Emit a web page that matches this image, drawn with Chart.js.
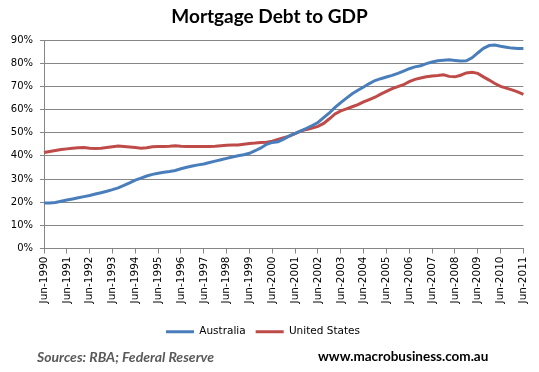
<!DOCTYPE html>
<html>
<head>
<meta charset="utf-8">
<script src="https://cdn.jsdelivr.net/npm/chart.js@4.4.0/dist/chart.umd.min.js"></script>
<style>
body { margin: 0; background: #fff; }
#wrap { position: relative; width: 539px; height: 372px; overflow: hidden; }
#title { position: absolute; top: 4px; left: 0; width: 539px; text-align: center; font: bold 19px Lato, sans-serif; color: #000; }
#myChart { position: absolute; left: 0; top: 0; }
.foot { position: absolute; top: 348px; font-family: Lato, sans-serif; font-weight: bold; white-space: nowrap; }
#src { left: 37px; font-size: 14px; font-style: italic; color: #595959; }
#site { left: 318px; font-size: 13.5px; color: #000; }
</style>
</head>
<body>
<div id="wrap">
  <canvas id="myChart" width="539" height="372"></canvas>
  <div id="title">Mortgage Debt to GDP</div>
  <div class="foot" id="src">Sources: RBA; Federal Reserve</div>
  <div class="foot" id="site">www.macrobusiness.com.au</div>
</div>
<script>
const years = [1990, 1991, 1992, 1993, 1994, 1995, 1996, 1997, 1998, 1999, 2000,
    2001, 2002, 2003, 2004, 2005, 2006, 2007, 2008, 2009, 2010, 2011]
const months = ['Jun', 'Sep', 'Dec', 'Mar']

// quarterly, Jun-1990 .. Jun-2011
const australia = [
    19.6, 19.6, 19.9, 20.4, 20.9, 21.4, 21.9, 22.4, 22.9, 23.5, 24.1, 24.7,
    25.4, 26.2, 27.2, 28.3, 29.5, 30.4, 31.3, 32.0, 32.5, 32.9, 33.2, 33.7,
    34.4, 35.1, 35.6, 36.1, 36.5, 37.1, 37.7, 38.3, 38.9, 39.5, 40.0, 40.5,
    41.1, 42.2, 43.4, 45.0, 45.8, 46.1, 47.2, 48.6, 49.7, 50.8, 51.9, 53.1,
    54.4, 56.5, 58.5, 60.9, 63.0, 64.9, 66.8, 68.3, 69.7, 71.2, 72.5, 73.3,
    74.0, 74.7, 75.6, 76.6, 77.6, 78.4, 78.9, 79.8, 80.5, 81.0, 81.3, 81.5,
    81.2, 80.9, 81.0, 82.3, 84.4, 86.4, 87.6, 87.8, 87.3, 86.9, 86.5, 86.3,
    86.3
]
const unitedStates = [
    41.4, 41.9, 42.3, 42.7, 43.0, 43.3, 43.5, 43.6, 43.3, 43.2, 43.3, 43.6,
    43.9, 44.2, 44.0, 43.8, 43.6, 43.3, 43.5, 43.9, 44.0, 44.0, 44.1, 44.3,
    44.1, 44.0, 44.0, 44.0, 44.0, 44.0, 44.1, 44.4, 44.6, 44.7, 44.7, 45.0,
    45.3, 45.5, 45.8, 45.9, 46.3, 47.1, 47.8, 48.5, 49.6, 50.7, 51.4, 52.0,
    52.7, 54.0, 56.0, 58.1, 59.4, 60.3, 61.2, 62.1, 63.3, 64.3, 65.3, 66.6,
    67.8, 69.0, 69.9, 70.7, 72.0, 73.0, 73.6, 74.1, 74.5, 74.7, 75.0, 74.3,
    74.1, 74.8, 75.8, 76.1, 75.6, 74.1, 72.7, 71.2, 70.0, 69.2, 68.5, 67.6,
    66.5
]

const labels = []
for (i = 0; i < australia.length; i++) {
    const y = years[0] + Math.floor((i + 2) / 4)
    labels.push(months[i % 4] + '-' + y)
}

const gridGray = '#868686'
const tickFont = { family: 'DejaVu Sans', size: 10 }

const ctx = document.getElementById('myChart').getContext('2d')
const lineChart = new Chart(ctx, {
    type: 'line',
    data: {
        labels: labels,
        datasets: [{
            label: 'Australia',
            data: australia,
            borderColor: '#4A7EBB',
            backgroundColor: '#4A7EBB',
            borderWidth: 3,
            pointRadius: 0,
            tension: 0
        }, {
            label: 'United States',
            data: unitedStates,
            borderColor: '#BE4B48',
            backgroundColor: '#BE4B48',
            borderWidth: 3,
            pointRadius: 0,
            tension: 0
        }]
    },
    options: {
        responsive: false,
        animation: false,
        layout: {
            padding: { top: 40, left: 0, right: 13, bottom: 25 }
        },
        plugins: {
            title: { display: false },
            tooltip: { enabled: false },
            legend: {
                position: 'bottom',
                labels: {
                    usePointStyle: true,
                    pointStyle: 'line',
                    pointStyleWidth: 28,
                    color: '#000',
                    font: { family: 'DejaVu Sans', size: 10.5 },
                    padding: 10
                }
            }
        },
        scales: {
            x: {
                afterFit: (axis) => { axis.height = 68 },
                border: { color: gridGray },
                grid: {
                    drawOnChartArea: false,
                    drawTicks: true,
                    tickLength: 5,
                    color: (c) => (c.index % 4 === 0 ? gridGray : 'rgba(0,0,0,0)')
                },
                ticks: {
                    autoSkip: false,
                    minRotation: 90,
                    maxRotation: 90,
                    padding: 3,
                    color: '#000',
                    font: { family: 'DejaVu Sans', size: 10.5 },
                    callback: function(val, index) {
                        return index % 4 === 0 ? this.getLabelForValue(val) : ''
                    }
                }
            },
            y: {
                min: 0,
                max: 90,
                afterFit: (axis) => { axis.width = 44 },
                border: { color: gridGray },
                grid: {
                    color: gridGray,
                    tickLength: 4
                },
                ticks: {
                    stepSize: 10,
                    padding: 7,
                    color: '#000',
                    font: tickFont,
                    callback: (v) => v + '%'
                }
            }
        }
    }
})
</script>
</body>
</html>
